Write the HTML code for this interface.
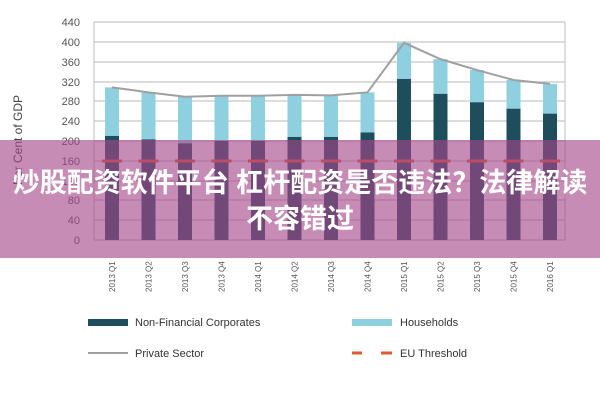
<!DOCTYPE html>
<html><head><meta charset="utf-8"><style>
body{margin:0;width:600px;height:400px;overflow:hidden;background:#fff;font-family:"Liberation Sans",sans-serif}
.ov{position:absolute;left:0;top:140px;width:600px;height:118px;background:rgba(165,70,135,0.62)}
.t{position:absolute;left:0;width:600px;text-align:center;color:#fff;font-weight:bold;font-size:27px;line-height:30px;font-family:"Liberation Sans","Noto Sans CJK SC",sans-serif}
</style></head><body>
<svg width="600" height="400" style="position:absolute;left:0;top:0" font-family="Liberation Sans, sans-serif">
<g stroke="#c8c8c8" stroke-width="1.2">
<line x1="94" x2="565" y1="22" y2="22"/><line x1="94" x2="565" y1="42" y2="42"/><line x1="94" x2="565" y1="62" y2="62"/><line x1="94" x2="565" y1="82" y2="82"/><line x1="94" x2="565" y1="101" y2="101"/><line x1="94" x2="565" y1="121" y2="121"/><line x1="94" x2="565" y1="141" y2="141"/><line x1="94" x2="565" y1="161" y2="161"/><line x1="94" x2="565" y1="181" y2="181"/><line x1="94" x2="565" y1="200" y2="200"/><line x1="94" x2="565" y1="220" y2="220"/><line x1="94" x2="565" y1="240" y2="240"/>
<line x1="94" x2="94" y1="22" y2="240"/><line x1="565" x2="565" y1="22" y2="240"/>
</g>
<g font-size="11" fill="#555" text-anchor="end">
<text x="80" y="26">440</text><text x="80" y="46">400</text><text x="80" y="66">360</text><text x="80" y="86">320</text><text x="80" y="105">280</text><text x="80" y="125">240</text><text x="80" y="145">200</text><text x="80" y="165">160</text><text x="80" y="185">120</text><text x="80" y="204">80</text><text x="80" y="224">40</text><text x="80" y="244">0</text>
</g>
<text transform="translate(22,140) rotate(-90)" font-size="12" fill="#444" text-anchor="middle">Per Cent of GDP</text>
<g id="bars"></g>
<polyline id="pl" fill="none" stroke="#a0a0a0" stroke-width="2"/>
<g id="lab" font-size="8" fill="#555"></g>
<rect x="88" y="319" width="40" height="7" fill="#1e4d5c"/>
<text x="135" y="326" font-size="11" fill="#333">Non-Financial Corporates</text>
<rect x="352" y="319" width="40" height="7" fill="#8ecfe0"/>
<text x="400" y="326" font-size="11" fill="#333">Households</text>
<line x1="88" x2="128" y1="353" y2="353" stroke="#a0a0a0" stroke-width="2"/>
<text x="135" y="357" font-size="11" fill="#333">Private Sector</text>
<line x1="352" x2="362" y1="353" y2="353" stroke="#e05a30" stroke-width="3"/><line x1="381" x2="392" y1="353" y2="353" stroke="#e05a30" stroke-width="3"/>
<text x="400" y="357" font-size="11" fill="#333">EU Threshold</text>
</svg>
<div class="ov"></div>
<div class="t" style="top:168px">炒股配资软件平台 杠杆配资是否违法？法律解读</div>
<div class="t" style="top:204px">不容错过</div>
<script>
var tot=[308,298,289,291,291,293,292,298,398,365,343,323,315],nf=[210,203,195,200,200,208,208,217,325,295,278,265,255];
var lb=["2013 Q1","2013 Q2","2013 Q3","2013 Q4","2014 Q1","2014 Q2","2014 Q3","2014 Q4","2015 Q1","2015 Q2","2015 Q3","2015 Q4","2016 Q1"];
var s="",p=[],l="";
function Y(v){return 240-v*0.4955}
for(var i=0;i<13;i++){var c=112+i*36.5;
s+='<rect x="'+(c-7)+'" y="'+Y(tot[i])+'" width="14" height="'+(Y(nf[i])-Y(tot[i]))+'" fill="#8ecfe0"/>';
s+='<rect x="'+(c-7)+'" y="'+Y(nf[i])+'" width="14" height="'+(240-Y(nf[i]))+'" fill="#1e4d5c"/>';
s+='<line x1="'+(c-10)+'" x2="'+(c+10)+'" y1="161" y2="161" stroke="#e05a30" stroke-width="3"/>';
p.push(c+","+Y(tot[i]));
l+='<text transform="translate('+(c+3)+',292) rotate(-90)">'+lb[i]+'</text>';}
document.getElementById("bars").innerHTML=s;
document.getElementById("pl").setAttribute("points",p.join(" "));
document.getElementById("lab").innerHTML=l;
</script>
</body></html>
